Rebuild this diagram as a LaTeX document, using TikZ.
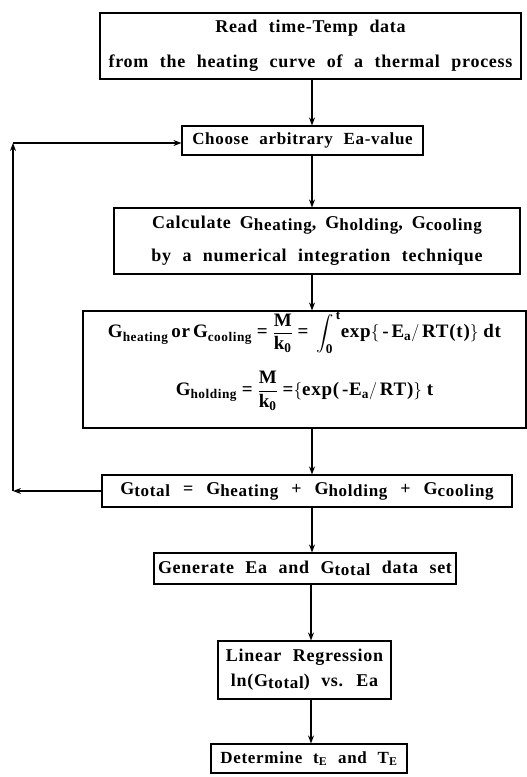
\documentclass[tikz,border=0pt]{standalone}
\usepackage{amsmath}
\usepackage{fontspec}
\setmainfont{Liberation Serif}[LetterSpace=4,WordSpace=2.2]
\usepackage{tikz}
\usetikzlibrary{arrows.meta,positioning}

% G with a lowered index
\newcommand{\Gx}[1]{G\raisebox{-2pt}{\fontsize{17}{17}\selectfont #1}}
\newcommand{\gap}{\hspace{9pt}}

\tikzset{
  stepbox/.style={draw, line width=1.1pt, align=center, inner sep=1pt,
    font=\fontsize{18}{20}\selectfont\bfseries},
  flow/.style={line width=1.1pt, -{Stealth[length=8pt,width=6pt]}}
}

\begin{document}
\begin{tikzpicture}[x=1pt,y=1pt]
\useasboundingbox (0,0) rectangle (527,-777);

% boxes of the flow
\node[stepbox, minimum width=421, minimum height=66] (read) at (310.5,-46)
  {Read time-Temp data\\[15pt] from the heating curve of a thermal process};
\node[stepbox, minimum width=241, minimum height=29,
  font=\fontsize{17}{19}\selectfont\bfseries] (choose) at (302.5,-140.5)
  {Choose arbitrary Ea-value};
\node[stepbox, minimum width=406, minimum height=66] (calc) at (317,-241)
  {Calculate\gap\Gx{heating},\gap\Gx{holding},\gap\Gx{cooling}\\[13pt] by a numerical integration technique};
\node[stepbox, minimum width=443, minimum height=117,
  font=\fontsize{19}{21}\selectfont\bfseries] (eqs) at (304.5,-369.5)
  {$\text{G}_{\text{heating}}\,\text{or}\,\text{G}_{\text{cooling}}
    \;\text{=}\;\dfrac{\text{M}}{\text{k}_{\text{0}}}\;\text{=}\;\displaystyle\int_{\text{0}}^{\,\text{t}}\!\text{exp}\{\,\text{-}\,\text{E}_{\text{a}}/\,\text{RT(t)}\}\;\text{dt}$\\[17pt]
   $\text{G}_{\text{holding}}\;\text{=}\;\dfrac{\text{M}}{\text{k}_{\text{0}}}\;\text{=}\{\text{exp(}\,\text{-E}_{\text{a}}/\,\text{RT)}\}\;\text{t}$\\[10pt]\mbox{}};
\node[stepbox, minimum width=410, minimum height=32] (total) at (307,-491)
  {\Gx{total}\hspace{13pt}=\hspace{13pt}\Gx{heating}\hspace{13pt}+\hspace{13pt}\Gx{holding}\hspace{13pt}+\hspace{13pt}\Gx{cooling}};
\node[stepbox, minimum width=302, minimum height=31] (gen) at (305,-568.5)
  {Generate Ea and \Gx{total} data set};
\node[stepbox, minimum width=173, minimum height=58] (regr) at (304.5,-670)
  {Linear Regression\\[5pt] ln(\Gx{total}) vs. Ea};
\node[stepbox, minimum width=196, minimum height=29,
  font=\fontsize{17}{19}\selectfont\bfseries] (det) at (309,-758.5)
  {Determine t$_{\text{E}}$ and T$_{\text{E}}$};

% main line down
\draw[flow] (read.south -| 312,0) -- (312,0 |- choose.north);
\draw[flow] (choose.south -| 312,0) -- (312,0 |- calc.north);
\draw[flow] (calc.south -| 312,0) -- (312,0 |- eqs.north);
\draw[flow] (eqs.south -| 312,0) -- (312,0 |- total.north);
\draw[flow] (total.south -| 312,0) -- (312,0 |- gen.north);
\draw[flow] (gen.south -| 311,0) -- (311,0 |- regr.north);
\draw[flow] (regr.south -| 311,0) -- (311,0 |- det.north);

% loop back for the next Ea
\coordinate (lbot) at (13,-491);
\coordinate (ltop) at (13,-143);
\draw[flow] (total.west) -- (lbot);
\draw[flow] (lbot) -- (ltop);
\draw[flow] (ltop) -- (ltop -| choose.west);

\end{tikzpicture}
\end{document}
